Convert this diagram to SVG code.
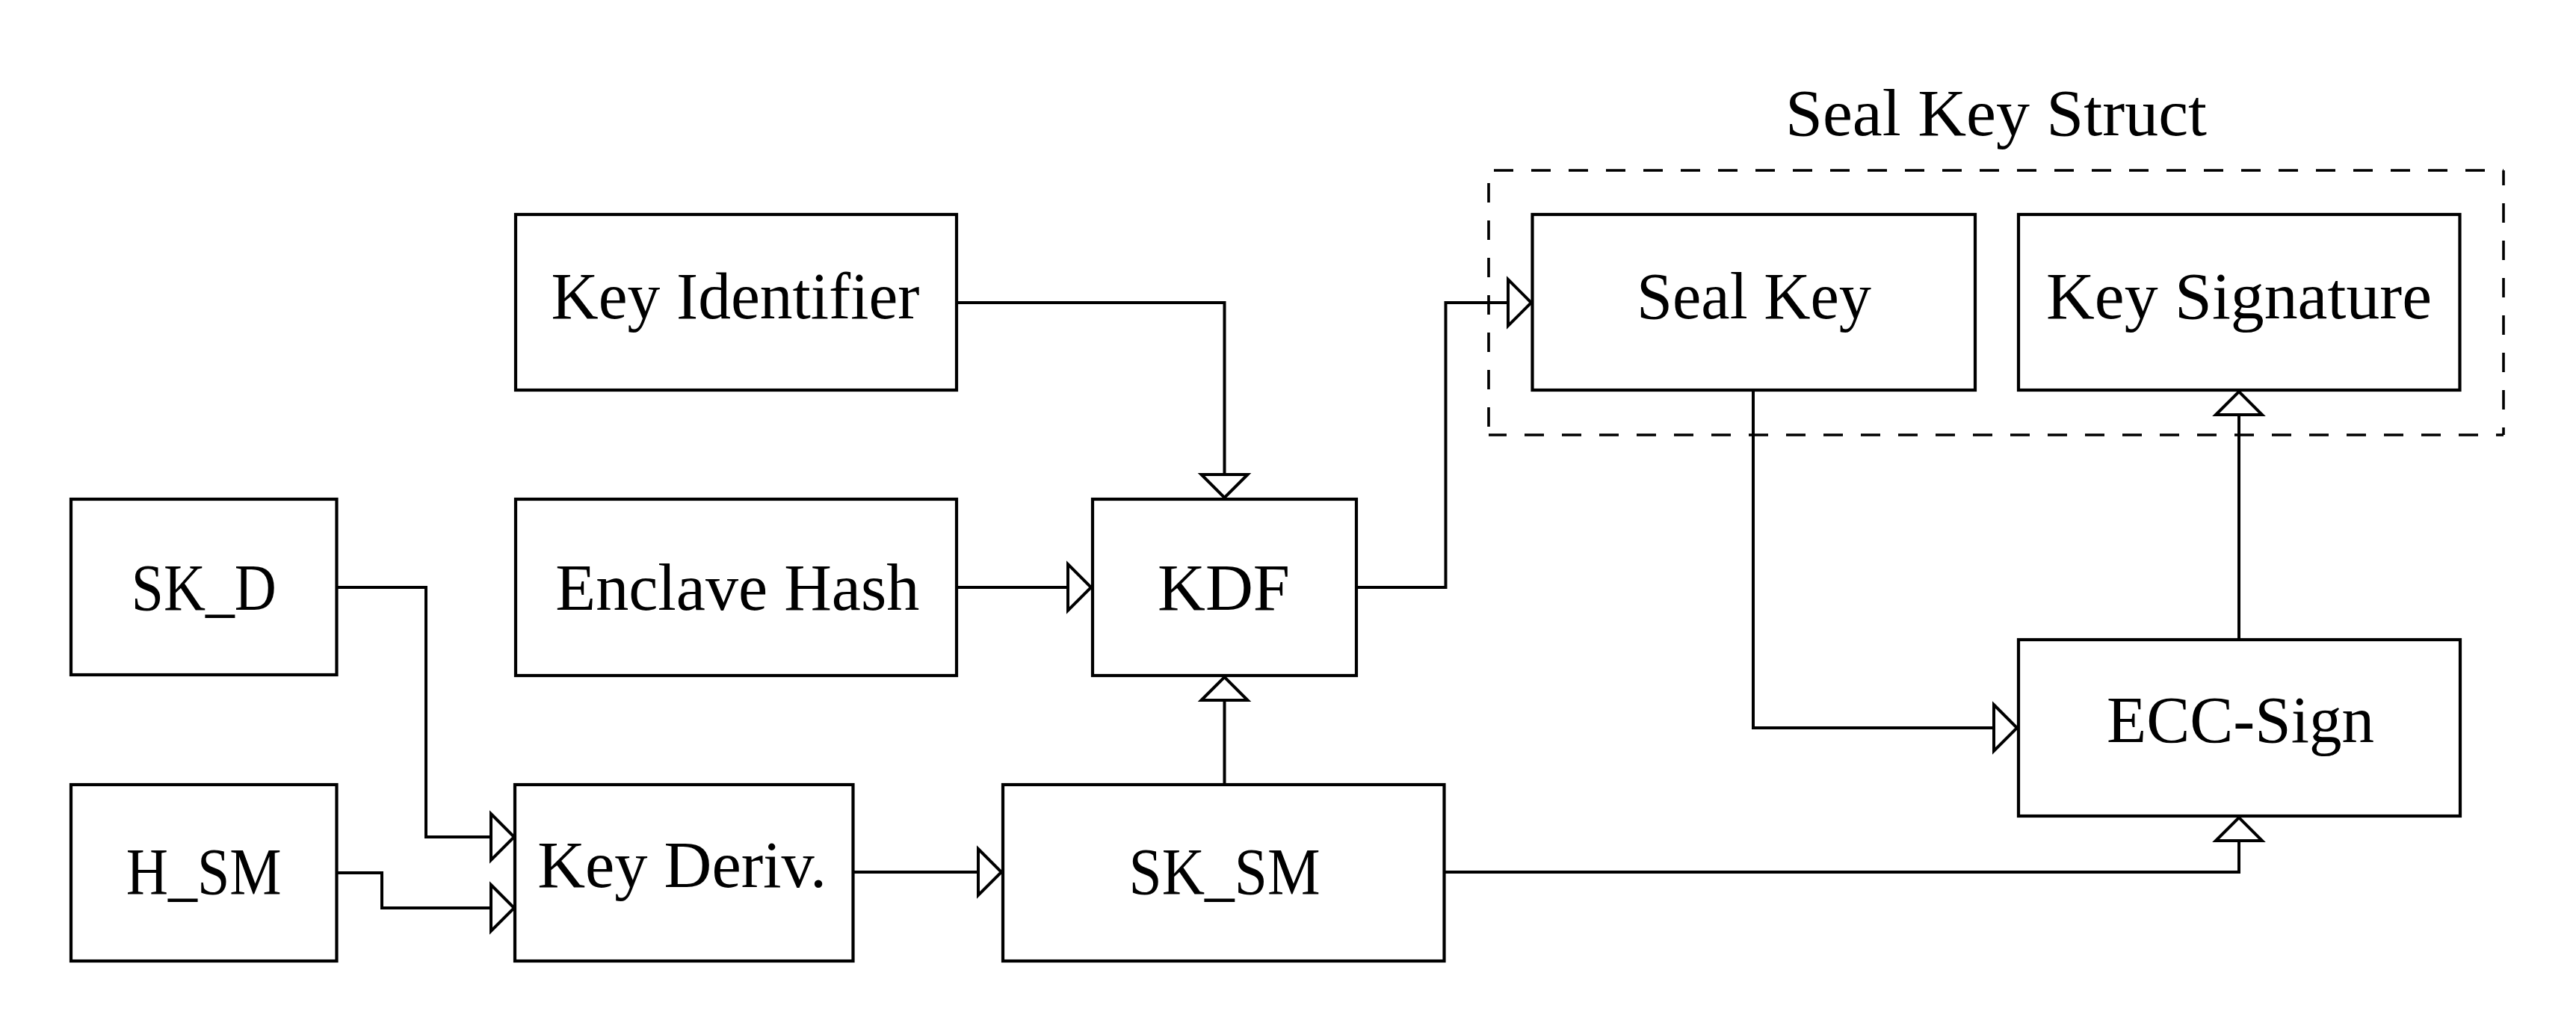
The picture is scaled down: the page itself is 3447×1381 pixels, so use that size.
<svg xmlns="http://www.w3.org/2000/svg" width="3447" height="1381" viewBox="0 0 3447 1381">
<style>
.box{fill:#fff;stroke:#000;stroke-width:4.2}
.lbl{font-family:"Liberation Serif","DejaVu Serif",serif;font-size:88px;fill:#000;text-anchor:middle}
.conn{fill:none;stroke:#000;stroke-width:4;marker-end:url(#tri)}
.dash{fill:none;stroke:#000;stroke-width:3.6;stroke-dasharray:26 24}
</style>
<defs>
<marker id="tri" markerUnits="userSpaceOnUse" markerWidth="40" markerHeight="70" refX="33" refY="33" orient="auto" overflow="visible">
<path d="M2,2 L33,33 L2,64 Z" fill="#fff" stroke="#000" stroke-width="4"/>
</marker>
</defs>
<rect width="3447" height="1381" fill="#fff"/>
<g id="group-sealkeystruct">
<line class="dash" x1="1992" y1="228" x2="3350" y2="228" stroke-dashoffset="43"/>
<line class="dash" x1="3350" y1="228" x2="3350" y2="582" stroke-dashoffset="6"/>
<line class="dash" x1="1992" y1="582" x2="3350" y2="582" stroke-dashoffset="2"/>
<line class="dash" x1="1992" y1="228" x2="1992" y2="582" stroke-dashoffset="33"/>
<text class="lbl" x="2671" y="181" textLength="564" lengthAdjust="spacingAndGlyphs">Seal Key Struct</text>
</g>
<g id="connectors">
<path class="conn" d="M1280,405 H1638.5 V666"/>
<path class="conn" d="M1280,786 H1460"/>
<path class="conn" d="M1638.5,1050 V906"/>
<path class="conn" d="M1815,786 H1934.5 V405 H2049"/>
<path class="conn" d="M450.5,786 H570 V1120 H688"/>
<path class="conn" d="M450.5,1168 H511 V1215 H688"/>
<path class="conn" d="M1141.5,1167 H1340"/>
<path class="conn" d="M2346,522 V974 H2699"/>
<path class="conn" d="M2996,856 V524"/>
<path class="conn" d="M1932.5,1167 H2996 V1094"/>
</g>
<g id="node-skd"><rect class="box" x="95" y="668" width="355.5" height="235"/><text class="lbl" x="272.8" y="816" textLength="194" lengthAdjust="spacingAndGlyphs">SK_D</text></g>
<g id="node-hsm"><rect class="box" x="95" y="1050" width="355.5" height="236"/><text class="lbl" x="272.7" y="1196" textLength="208" lengthAdjust="spacingAndGlyphs">H_SM</text></g>
<g id="node-keyid"><rect class="box" x="690" y="287" width="590" height="235"/><text class="lbl" x="984" y="426" textLength="493" lengthAdjust="spacingAndGlyphs">Key Identifier</text></g>
<g id="node-enclave"><rect class="box" x="690" y="668" width="590" height="236"/><text class="lbl" x="986.8" y="816" textLength="487" lengthAdjust="spacingAndGlyphs">Enclave Hash</text></g>
<g id="node-keyderiv"><rect class="box" x="689" y="1050" width="452.5" height="236"/><text class="lbl" x="912.7" y="1187" textLength="387" lengthAdjust="spacingAndGlyphs">Key Deriv.</text></g>
<g id="node-kdf"><rect class="box" x="1462" y="668" width="353" height="236"/><text class="lbl" x="1637.5" y="816" textLength="177" lengthAdjust="spacingAndGlyphs">KDF</text></g>
<g id="node-sksm"><rect class="box" x="1342" y="1050" width="590.5" height="236"/><text class="lbl" x="1638.6" y="1196" textLength="256" lengthAdjust="spacingAndGlyphs">SK_SM</text></g>
<g id="node-sealkey"><rect class="box" x="2050.5" y="287" width="592.5" height="235"/><text class="lbl" x="2347" y="426" textLength="314" lengthAdjust="spacingAndGlyphs">Seal Key</text></g>
<g id="node-keysig"><rect class="box" x="2701" y="287" width="590.5" height="235"/><text class="lbl" x="2996" y="426" textLength="516" lengthAdjust="spacingAndGlyphs">Key Signature</text></g>
<g id="node-ecc"><rect class="box" x="2701" y="856" width="591" height="236"/><text class="lbl" x="2998" y="993" textLength="358" lengthAdjust="spacingAndGlyphs">ECC-Sign</text></g>
</svg>
